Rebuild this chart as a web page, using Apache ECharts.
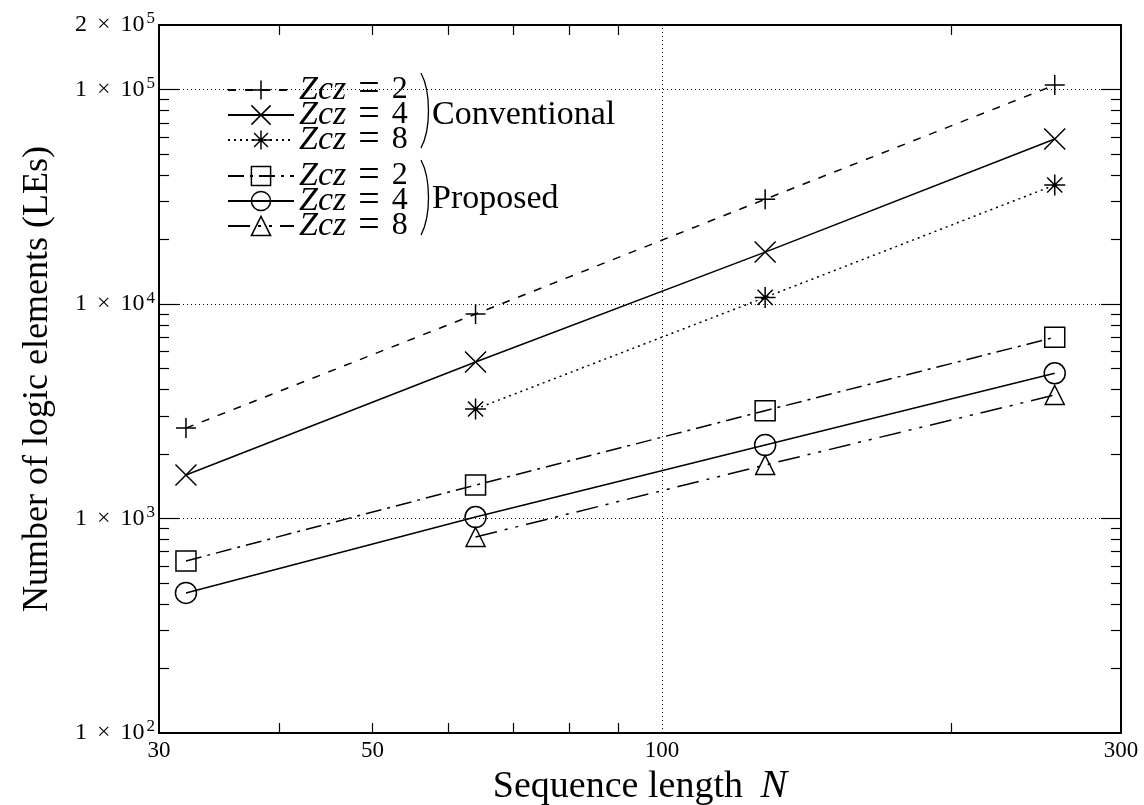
<!DOCTYPE html>
<html>
<head>
<meta charset="utf-8">
<script src="https://cdn.jsdelivr.net/npm/echarts@6/dist/echarts.min.js"></script>
<style>
  html, body { margin: 0; padding: 0; background: #fff; }
  #chart { width: 1144px; height: 805px; }
</style>
</head>
<body>
<div id="chart"></div>
<script>
// sequence length N
const seqLen = [32, 64, 128, 256];
const convZcz2 = [2640, 8980, 30800, 105000];
const convZcz4 = [1595, 5370, 17470, 58800];
const convZcz8 = [null, 3240, 10740, 35900];
const propZcz2 = [634, 1432, 3183, 6997];
const propZcz4 = [450, 1016, 2202, 4753];
const propZcz8 = [null, 820, 1776, 3766];

const zczValues = [2, 4, 8];

// axis ticks / labels
const xLabelValues = [30, 50, 100, 300];
const xTickValues = [40, 50, 60, 70, 80, 90, 200];
const yLabelValues = [100, 1000, 10000, 100000, 200000];
const yMajorTicks = [1000, 10000, 100000];
const yMinorTicks = [200, 300, 400, 500, 600, 700, 800, 900,
  2000, 3000, 4000, 5000, 6000, 7000, 8000, 9000,
  20000, 30000, 40000, 50000, 60000, 70000, 80000, 90000];
const xGrid = [100];
const yGrid = [1000, 10000, 100000];

const FONT = "'Liberation Serif', 'DejaVu Serif', serif";

const PLUS = 'path://M0,-1L0,1M-1,0L1,0';
const CROSS = 'path://M-1,-1L1,1M-1,1L1,-1';
const STAR = 'path://M0,-1L0,1M-1,0L1,0M-0.72,-0.72L0.72,0.72M-0.72,0.72L0.72,-0.72';

const toPairs = (ys) => seqLen.map((x, i) => [x, ys[i]]).filter(p => p[1] != null);

const makeSeries = (name, ys, symbol, size, dash) => ({
  name: name,
  type: 'line',
  data: toPairs(ys),
  symbol: symbol,
  symbolSize: size,
  showAllSymbol: true,
  lineStyle: { color: '#000', width: 1.5, type: dash },
  itemStyle: { color: 'rgba(0,0,0,0)', borderColor: '#000', borderWidth: 1.5 },
  emphasis: { disabled: true },
  z: 3
});

const legendName = (group, z) => group + ' Zcz = ' + z;

const series = [
  makeSeries(legendName('Conventional', zczValues[0]), convZcz2, PLUS, 20, [8, 9]),
  makeSeries(legendName('Conventional', zczValues[1]), convZcz4, CROSS, 21, 'solid'),
  makeSeries(legendName('Conventional', zczValues[2]), convZcz8, STAR, 21, [2, 4]),
  makeSeries(legendName('Proposed', zczValues[0]), propZcz2, 'rect', 20, [16, 6, 3, 6]),
  makeSeries(legendName('Proposed', zczValues[1]), propZcz4, 'circle', 21, 'solid'),
  makeSeries(legendName('Proposed', zczValues[2]), propZcz8, 'triangle', 19, [22, 8, 3, 8, 3, 8])
];

// dotted grid lines
series[0].markLine = {
  silent: true,
  symbol: 'none',
  label: { show: false },
  lineStyle: { color: '#000', width: 1, type: [1, 3] },
  data: xGrid.map(v => ({ xAxis: v })).concat(yGrid.map(v => ({ yAxis: v }))),
  z: 1
};

const legendText = {
  fontFamily: FONT,
  color: '#000',
  rich: {
    i: { fontFamily: FONT, fontStyle: 'italic', fontSize: 34, color: '#000' },
    e: { fontFamily: FONT, fontSize: 38, color: '#000', padding: [0, 12, 0, 12] },
    n: { fontFamily: FONT, fontSize: 32, color: '#000' }
  }
};
const legendFormatter = (name) => {
  const z = name.split('= ')[1];
  return '{i|Zcz}{e|=}{n|' + z + '}';
};

const baseLegend = {
  orient: 'vertical',
  left: 222,
  itemWidth: 66,
  itemHeight: 24,
  itemGap: -13,
  selectedMode: false,
  textStyle: legendText,
  formatter: legendFormatter,
  itemStyle: { borderWidth: 1.5, borderColor: '#000' }
};

const yLabelFormatter = (v) => {
  const e = Math.floor(Math.log10(v) + 1e-9);
  const m = Math.round(v / Math.pow(10, e));
  return '{b|' + m + '}{x|\u00d7}{b|10}{s|' + e + '}';
};

const logX = { type: 'log', logBase: 10, min: 30, max: 300 };
const logY = { type: 'log', logBase: 10, min: 100, max: 200000 };
const frameLine = { show: true, onZero: false, lineStyle: { color: '#000', width: 2 } };

const option = {
  animation: false,
  backgroundColor: '#fff',
  grid: { left: 159, right: 23, top: 25, bottom: 72, containLabel: false, outerBoundsMode: 'none' },
  legend: [
    Object.assign({}, baseLegend, { top: 66, data: series.slice(0, 3).map(s => s.name) }),
    Object.assign({}, baseLegend, { top: 152, data: series.slice(3).map(s => s.name) })
  ],
  xAxis: [
    Object.assign({}, logX, {
      position: 'bottom',
      name: '{n|Sequence length }{i|N}',
      nameLocation: 'middle',
      nameGap: 33,
      nameTextStyle: {
        rich: {
          n: { fontFamily: FONT, fontSize: 38, color: '#000' },
          i: { fontFamily: FONT, fontSize: 40, fontStyle: 'italic', color: '#000', padding: [0, 0, 0, 8] }
        }
      },
      axisLine: frameLine,
      axisTick: { inside: true, length: 10, customValues: xTickValues, lineStyle: { color: '#000', width: 1.2 } },
      axisLabel: { customValues: xLabelValues, margin: 6, color: '#000', fontFamily: FONT, fontSize: 23 },
      splitLine: { show: false },
      minorTick: { show: false }
    }),
    Object.assign({}, logX, {
      position: 'top',
      axisLine: frameLine,
      axisTick: { inside: true, length: 10, customValues: xTickValues, lineStyle: { color: '#000', width: 1.2 } },
      axisLabel: { show: false },
      splitLine: { show: false }
    })
  ],
  yAxis: [
    Object.assign({}, logY, {
      position: 'left',
      name: 'Number of logic elements (LEs)',
      nameLocation: 'middle',
      nameRotate: 90,
      nameGap: 103,
      nameTextStyle: { fontFamily: FONT, fontSize: 36, color: '#000' },
      axisLine: frameLine,
      axisTick: { inside: true, length: 20, customValues: yMajorTicks, lineStyle: { color: '#000', width: 1.2 } },
      axisLabel: {
        customValues: yLabelValues,
        margin: 4,
        formatter: yLabelFormatter,
        rich: {
          b: { fontFamily: FONT, fontSize: 24, color: '#000' },
          x: { fontFamily: FONT, fontSize: 24, color: '#000', padding: [0, 10, 0, 10] },
          s: { fontFamily: FONT, fontSize: 17, color: '#000', verticalAlign: 'bottom', padding: [0, 0, 12, 2] }
        }
      },
      splitLine: { show: false }
    }),
    Object.assign({}, logY, {
      position: 'left',
      axisLine: { show: false },
      axisTick: { inside: true, length: 10, customValues: yMinorTicks, lineStyle: { color: '#000', width: 1.2 } },
      axisLabel: { show: false },
      splitLine: { show: false }
    }),
    Object.assign({}, logY, {
      position: 'right',
      axisLine: frameLine,
      axisTick: { inside: true, length: 20, customValues: yMajorTicks, lineStyle: { color: '#000', width: 1.2 } },
      axisLabel: { show: false },
      splitLine: { show: false }
    }),
    Object.assign({}, logY, {
      position: 'right',
      axisLine: { show: false },
      axisTick: { inside: true, length: 10, customValues: yMinorTicks, lineStyle: { color: '#000', width: 1.2 } },
      axisLabel: { show: false },
      splitLine: { show: false }
    })
  ],
  graphic: [
    { type: 'bezierCurve', shape: { x1: 421, y1: 73, cpx1: 431, cpy1: 92, cpx2: 431, cpy2: 129, x2: 421, y2: 148 },
      style: { stroke: '#000', lineWidth: 1.3, fill: null } },
    { type: 'bezierCurve', shape: { x1: 421, y1: 160, cpx1: 431, cpy1: 179, cpx2: 431, cpy2: 216, x2: 421, y2: 235 },
      style: { stroke: '#000', lineWidth: 1.3, fill: null } },
    { type: 'text', left: 432, top: 98, style: { text: 'Conventional', fontFamily: FONT, fontSize: 34, fill: '#000' } },
    { type: 'text', left: 432, top: 182, style: { text: 'Proposed', fontFamily: FONT, fontSize: 34, fill: '#000' } }
  ],
  series: series
};

const chart = echarts.init(document.getElementById('chart'));
chart.setOption(option);
</script>
</body>
</html>
